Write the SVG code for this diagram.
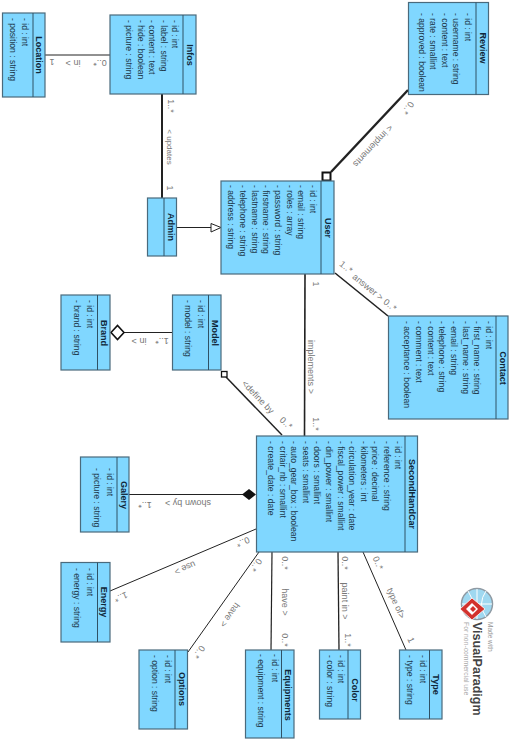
<svg xmlns="http://www.w3.org/2000/svg" width="511" height="741" viewBox="0 0 511 741">
<style>
text{font-family:"Liberation Sans",Arial,sans-serif}
.box{fill:#80d7ff;stroke:#4a6a7c;stroke-width:1.2}
.div{stroke:#2f5266;stroke-width:1}
.t{font-size:9px;font-weight:bold;fill:#10283a;text-anchor:middle}
.a{font-size:8.6px;fill:#203a4c}
.l{font-size:9px;fill:#777;text-anchor:middle;dominant-baseline:central}
.c{fill:none;stroke:#222}
</style>
<rect width="511" height="741" fill="#fff"/>
<g id="connectors">
<path class="c" stroke-width="1" d="M45 55H110"/>
<path class="c" stroke-width="2" stroke="#333" d="M162 94V198"/>
<path class="c" stroke-width="1" d="M176 227.5H211"/>
<polygon points="211,223.5 221,227.5 211,232" fill="#fff" stroke="#222" stroke-width="1"/>
<path class="c" stroke-width="2.4" stroke="#111" d="M331 172L408 90"/>
<rect x="322.500" y="172.500" width="8" height="8" fill="#fff" stroke="#111" stroke-width="2"/>
<path class="c" stroke-width="1.6" d="M335 273L388 316"/>
<path class="c" stroke-width="1.6" d="M305 274L304.500 436"/>
<path class="c" stroke-width="1.5" d="M226 377L282 435"/>
<rect x="221.500" y="371.500" width="5.500" height="5.500" fill="#fff" stroke="#111" stroke-width="1.3"/>
<path class="c" stroke-width="1" d="M124 332.500H172"/>
<polygon points="111,332.500 117.500,325.500 124,332.500 117.500,339.500" fill="#fff" stroke="#111" stroke-width="1.6"/>
<path class="c" stroke-width="1" d="M129 494.500H243"/>
<polygon points="242,494.500 249,489 256,494.500 249,500" fill="#111"/>
<path class="c" stroke-width="1" d="M110 591L256 529"/>
<path class="c" stroke-width="1" stroke="#333" d="M188 652L259 552"/>
<path class="c" stroke-width="1.2" stroke="#555" d="M271 650L272 552"/>
<path class="c" stroke-width="1.3" stroke="#666" d="M338 552L339 650"/>
<path class="c" stroke-width="1" stroke="#333" d="M363 552L406 650"/>
<text class="l" transform="translate(52,62) rotate(180)">1</text>
<text class="l" transform="translate(73,63) rotate(180)">in &gt;</text>
<text class="l" transform="translate(100,63) rotate(180)">0..*</text>
<text class="l" transform="translate(171,106) rotate(90)">1..*</text>
<text class="l" style="font-size:8px" transform="translate(169,147) rotate(90)">&lt; updates</text>
<text class="l" transform="translate(170,188) rotate(90)">1</text>
<text class="l" transform="translate(373,146) rotate(133)">&lt; implements</text>
<text class="l" transform="translate(408,108) rotate(125)">0..*</text>
<text class="l" transform="translate(346,267) rotate(39)">1..*</text>
<text class="l" transform="translate(368,287) rotate(39)">answer &gt;</text>
<text class="l" transform="translate(390,305) rotate(39)">0..*</text>
<text class="l" transform="translate(316,284) rotate(90)">1</text>
<text class="l" transform="translate(311,367) rotate(90)">implements &gt;</text>
<text class="l" transform="translate(316,424) rotate(90)">1..*</text>
<text class="l" transform="translate(258,397) rotate(46)">&lt;define by</text>
<text class="l" transform="translate(286,423) rotate(42)">0..*</text>
<text class="l" transform="translate(139,341) rotate(180)">in &gt;</text>
<text class="l" transform="translate(162,341) rotate(180)">1..*</text>
<text class="l" transform="translate(188,503) rotate(180)">shown by &gt;</text>
<text class="l" transform="translate(145,504.500) rotate(180)">1..*</text>
<text class="l" transform="translate(121,597) rotate(157)">1..*</text>
<text class="l" transform="translate(185,568) rotate(157)">use &gt;</text>
<text class="l" transform="translate(243,542) rotate(157)">0..*</text>
<text class="l" transform="translate(199,652) rotate(125)">0..*</text>
<text class="l" transform="translate(230,615) rotate(125)">have &gt;</text>
<text class="l" transform="translate(256,565) rotate(125)">0..*</text>
<text class="l" transform="translate(285,563) rotate(90)">0..*</text>
<text class="l" transform="translate(285,602) rotate(90)">have &gt;</text>
<text class="l" transform="translate(285,640) rotate(90)">0..*</text>
<text class="l" transform="translate(345,563) rotate(90)">0..*</text>
<text class="l" transform="translate(345,601) rotate(90)">paint in &gt;</text>
<text class="l" transform="translate(348,640) rotate(90)">1..*</text>
<text class="l" transform="translate(378,563) rotate(66)">0..*</text>
<text class="l" transform="translate(396,603) rotate(66)">type of&gt;</text>
<text class="l" transform="translate(411,640) rotate(66)">1</text>
</g>
<g id="Location">
<rect class="box" x="2.500" y="13" width="42.500" height="84"/><path class="div" d="M33 13V97"/>
<text class="t" transform="translate(36,55) rotate(90)">Location</text>
<text class="a" transform="translate(22,18) rotate(90)">- id : int</text>
<text class="a" transform="translate(10,18) rotate(90)">- position : string</text>
</g>
<g id="Infos">
<rect class="box" x="110" y="15" width="86" height="79"/><path class="div" d="M183 15V94"/>
<text class="t" transform="translate(187,55) rotate(90)">Infos</text>
<text class="a" transform="translate(172,20) rotate(90)">- id : int</text>
<text class="a" transform="translate(160.500,20) rotate(90)">- label : string</text>
<text class="a" transform="translate(149,20) rotate(90)">- content : text</text>
<text class="a" transform="translate(137.500,20) rotate(90)">- hide : boolean</text>
<text class="a" transform="translate(126,20) rotate(90)">- picture : string</text>
</g>
<g id="Admin">
<rect class="box" x="147.500" y="198" width="29" height="58"/><path class="div" d="M164 198V256"/>
<text class="t" transform="translate(168,227) rotate(90)">Admin</text>
</g>
<g id="User">
<rect class="box" x="221" y="181" width="113" height="93"/><path class="div" d="M321 181V274"/>
<text class="t" transform="translate(325,228) rotate(90)">User</text>
<text class="a" transform="translate(310,185) rotate(90)">- id : int</text>
<text class="a" transform="translate(298,185) rotate(90)">- email : string</text>
<text class="a" transform="translate(286.500,185) rotate(90)">- roles : array</text>
<text class="a" transform="translate(275,185) rotate(90)">- password : string</text>
<text class="a" transform="translate(263,185) rotate(90)">- firstname : string</text>
<text class="a" transform="translate(251.500,185) rotate(90)">- lastname : string</text>
<text class="a" transform="translate(240,185) rotate(90)">- telephone : string</text>
<text class="a" transform="translate(228,185) rotate(90)">- address : string</text>
</g>
<g id="Review">
<rect class="box" x="408.500" y="2.500" width="80" height="92"/><path class="div" d="M476 2.500V94.500"/>
<text class="t" transform="translate(480,48) rotate(90)">Review</text>
<text class="a" transform="translate(465,13) rotate(90)">- id : int</text>
<text class="a" transform="translate(453,13) rotate(90)">- username : string</text>
<text class="a" transform="translate(442,13) rotate(90)">- content : text</text>
<text class="a" transform="translate(430,13) rotate(90)">- rate : smallint</text>
<text class="a" transform="translate(418.500,13) rotate(90)">- approved : boolean</text>
</g>
<g id="Contact">
<rect class="box" x="388.500" y="316" width="119.500" height="103"/><path class="div" d="M496 316V419"/>
<text class="t" transform="translate(500,368) rotate(90)">Contact</text>
<text class="a" transform="translate(486,321) rotate(90)">- id : int</text>
<text class="a" transform="translate(474,321) rotate(90)">- first_name : string</text>
<text class="a" transform="translate(462.500,321) rotate(90)">- last_name : string</text>
<text class="a" transform="translate(451,321) rotate(90)">- email : string</text>
<text class="a" transform="translate(439,321) rotate(90)">- telephone : string</text>
<text class="a" transform="translate(427.500,321) rotate(90)">- content : text</text>
<text class="a" transform="translate(416,321) rotate(90)">- comment : text</text>
<text class="a" transform="translate(404,321) rotate(90)">- acceptance : boolean</text>
</g>
<g id="Brand">
<rect class="box" x="61" y="295" width="49" height="75"/><path class="div" d="M97.500 295V370"/>
<text class="t" transform="translate(101,333) rotate(90)">Brand</text>
<text class="a" transform="translate(87,300) rotate(90)">- id : int</text>
<text class="a" transform="translate(74,300) rotate(90)">- brand : string</text>
</g>
<g id="Model">
<rect class="box" x="172.500" y="295" width="48.500" height="75"/><path class="div" d="M208.500 295V370"/>
<text class="t" transform="translate(212,333) rotate(90)">Model</text>
<text class="a" transform="translate(198,300) rotate(90)">- id : int</text>
<text class="a" transform="translate(185,300) rotate(90)">- model : string</text>
</g>
<g id="Galery">
<rect class="box" x="80.500" y="457" width="48.500" height="75"/><path class="div" d="M117 457V532"/>
<text class="t" transform="translate(120.500,495) rotate(90)">Galery</text>
<text class="a" transform="translate(107,468) rotate(90)">- id : int</text>
<text class="a" transform="translate(93.500,468) rotate(90)">- picture : string</text>
</g>
<g id="SecondHandCar">
<rect class="box" x="256.500" y="436" width="161" height="116"/><path class="div" d="M405 436V552"/>
<text class="t" transform="translate(409,494) rotate(90)">SecondHandCar</text>
<text class="a" transform="translate(395,441) rotate(90)">- id : int</text>
<text class="a" transform="translate(384,441) rotate(90)">- reference : string</text>
<text class="a" transform="translate(372,441) rotate(90)">- price : decimal</text>
<text class="a" transform="translate(360.500,441) rotate(90)">- kilometers : int</text>
<text class="a" transform="translate(349,441) rotate(90)">- circulation_year : date</text>
<text class="a" transform="translate(337.500,441) rotate(90)">- fiscal_power : smallint</text>
<text class="a" transform="translate(326,441) rotate(90)">- din_power : smallint</text>
<text class="a" transform="translate(314,441) rotate(90)">- doors : smallint</text>
<text class="a" transform="translate(303,441) rotate(90)">- seats : smallint</text>
<text class="a" transform="translate(291,441) rotate(90)">- auto_gear_box : boolean</text>
<text class="a" transform="translate(279.500,441) rotate(90)">- critair_nb : smallint</text>
<text class="a" transform="translate(268,441) rotate(90)">- create_date : date</text>
</g>
<g id="Energy">
<rect class="box" x="61" y="562.500" width="49" height="79.500"/><path class="div" d="M97.500 562.500V642"/>
<text class="t" transform="translate(101,602) rotate(90)">Energy</text>
<text class="a" transform="translate(87,568) rotate(90)">- id : int</text>
<text class="a" transform="translate(74,568) rotate(90)">- energy : string</text>
</g>
<g id="Options">
<rect class="box" x="139" y="650" width="48.500" height="79"/><path class="div" d="M175 650V729"/>
<text class="t" transform="translate(178.500,689) rotate(90)">Options</text>
<text class="a" transform="translate(165,655) rotate(90)">- id : int</text>
<text class="a" transform="translate(152,655) rotate(90)">- option : string</text>
</g>
<g id="Equipments">
<rect class="box" x="245.500" y="650" width="48.500" height="88"/><path class="div" d="M281.500 650V738"/>
<text class="t" transform="translate(285,695) rotate(90)">Equipments</text>
<text class="a" transform="translate(272,654) rotate(90)">- id : int</text>
<text class="a" transform="translate(258,654) rotate(90)">- equipment : string</text>
</g>
<g id="Color">
<rect class="box" x="319.500" y="650" width="41" height="69"/><path class="div" d="M348 650V719"/>
<text class="t" transform="translate(351.500,690) rotate(90)">Color</text>
<text class="a" transform="translate(338,655) rotate(90)">- id : int</text>
<text class="a" transform="translate(326.500,655) rotate(90)">- color : string</text>
</g>
<g id="Type">
<rect class="box" x="399.500" y="650" width="42.500" height="69"/><path class="div" d="M429.500 650V719"/>
<text class="t" transform="translate(433,684.500) rotate(90)">Type</text>
<text class="a" transform="translate(420,655) rotate(90)">- id : int</text>
<text class="a" transform="translate(407,655) rotate(90)">- type : string</text>
</g>
<g id="logo">
<circle cx="477" cy="604" r="15.500" fill="#9fd8f0" stroke="#8f9aa3" stroke-width="1.500"/>
<path d="M477 589V619M462 604H492M468 591Q477 604 468 617M486 591Q477 604 486 617" fill="none" stroke="#fff" stroke-width="1"/>
<polygon points="460,609 472,598 485,609 472,620" fill="#d2322d" stroke="#fff" stroke-width="0.800"/>
<polygon points="466,609 472,603 478,609 472,615" fill="#fff"/>
<polygon points="470,609 473,606 476,609 473,612" fill="#d2322d"/>
<text transform="translate(488,622) rotate(90)" font-size="6.500" fill="#999">Made with</text>
<text transform="translate(473,622) rotate(90)" font-size="12.500" font-weight="bold" fill="#444">VisualParadigm</text>
<text transform="translate(463.500,622) rotate(90)" font-size="6.800" fill="#aaa">For non-commercial use</text>
</g>
</svg>
